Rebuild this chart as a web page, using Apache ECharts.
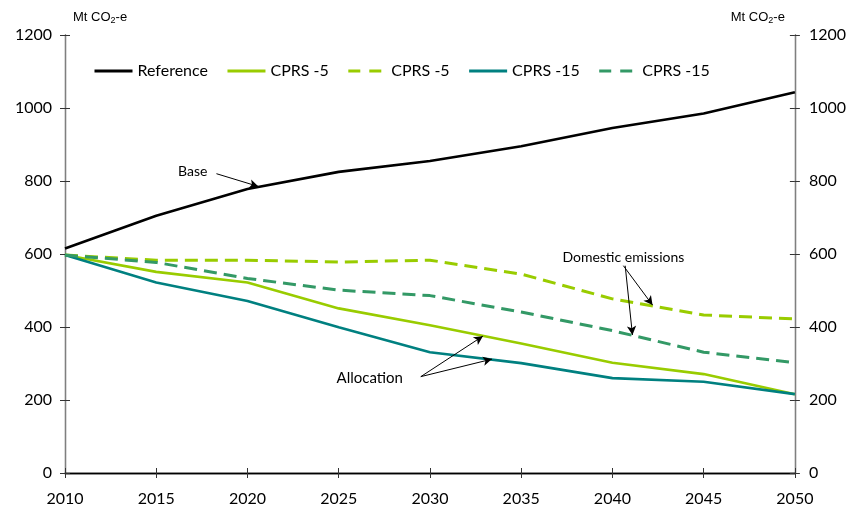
<!DOCTYPE html>
<html>
<head>
<meta charset="utf-8">
<script src="https://cdn.jsdelivr.net/npm/echarts@6/dist/echarts.min.js"></script>
<style>
html,body{margin:0;padding:0;background:#fff;}
#chart{width:849px;height:513px;}
</style>
</head>
<body>
<div id="chart"></div>
<script>
const years = [2010, 2015, 2020, 2025, 2030, 2035, 2040, 2045, 2050];
const reference = [615, 705, 778, 825, 855, 895, 945, 985, 1043];
const cprs5Alloc = [597, 551, 522, 451, 405, 355, 302, 271, 216];
const cprs5Dom = [597, 583, 583, 578, 583, 545, 477, 433, 422];
const cprs15Alloc = [597, 522, 471, 399, 331, 301, 260, 250, 216];
const cprs15Dom = [597, 577, 533, 501, 486, 441, 390, 331, 302];
const yTicks = [0, 200, 400, 600, 800, 1000, 1200];
const legendNames = ['Reference', 'CPRS -5', 'CPRS -5 ', 'CPRS -15', 'CPRS -15 '];

// annotation anchors in data space [year, value]
const baseText = [2017.0, 826];
const baseArrow = [[2018.3, 820], [2020.6, 785]];
const domText = [2040.6, 590];
const domArrows = [[[2040.6, 568], [2042.2, 460]], [[2040.7, 568], [2041.1, 378]]];
const allocText = [2026.7, 261];
const allocArrows = [[[2029.5, 264], [2032.9, 375]], [[2029.5, 264], [2033.4, 312]]];

const FONT = 'Lato, "Open Sans", sans-serif';
const pairs = arr => years.map((y, i) => [y, arr[i]]);

const colors = {ref: '#000000', c5: '#99cc00', c15: '#008080', c15d: '#339966'};
const DASH = [13, 7];

const chart = echarts.init(document.getElementById('chart'), null, {renderer: 'canvas'});

const nameRich = {
  base: {fontFamily: '"Liberation Sans", Arial', fontSize: 13, color: '#000'},
  sub: {fontFamily: '"Liberation Sans", Arial', fontSize: 9, color: '#000', verticalAlign: 'bottom', padding: [7, 0, 0, 0]}
};

function yAx(pos, main) {
  return {
    type: 'value', position: pos, min: 0, max: 1200, interval: 200,
    name: main ? '{base|Mt CO}{sub|2}{base|-e}' : '',
    nameLocation: 'end', nameGap: 10,
    nameTextStyle: {rich: nameRich, align: pos === 'left' ? 'left' : 'right', padding: pos === 'left' ? [0, 0, 0, 8] : [0, 10, 0, 0]},
    axisLine: {show: true, lineStyle: {color: '#7f7f7f', width: 1.3}},
    axisTick: {show: true, inside: !main, length: 5, lineStyle: {color: '#333', width: 1}},
    axisLabel: {show: main, fontFamily: FONT, fontSize: 16, color: '#000', margin: pos === 'left' ? 13 : 14, formatter: v => String(v)},
    splitLine: {show: false}
  };
}
function xAx(main) {
  return {
    type: 'value', position: 'bottom', min: 2010, max: 2050, interval: 5,
    axisLine: {show: true, onZero: false, lineStyle: {color: '#000', width: 1.3}},
    axisTick: {show: true, inside: !main, length: 5, lineStyle: {color: '#333', width: 1}},
    axisLabel: {show: main, fontFamily: FONT, fontSize: 16, color: '#000', margin: 18, formatter: v => String(v)},
    splitLine: {show: false}
  };
}

const arrowLine = (a, b) => [{coord: a}, {coord: b}];
const textPoint = (c, txt, size) => ({
  coord: c, symbol: 'rect', symbolSize: 1, itemStyle: {color: 'rgba(0,0,0,0)'},
  label: {show: true, position: 'inside', formatter: txt, color: '#000', fontFamily: FONT, fontSize: size}
});

const annotationMarkLine = {
  silent: true, symbol: ['none', 'arrow'], symbolSize: [7, 9],
  lineStyle: {color: '#000', width: 1, type: 'solid'},
  label: {show: false},
  emphasis: {disabled: true},
  data: [arrowLine(baseArrow[0], baseArrow[1])]
    .concat(domArrows.map(a => arrowLine(a[0], a[1])))
    .concat(allocArrows.map(a => arrowLine(a[0], a[1])))
};

const annotationMarkPoint = {
  silent: true,
  data: [textPoint(baseText, 'Base', 14), textPoint(domText, 'Domestic emissions', 14), textPoint(allocText, 'Allocation', 15)]
};

function lineSeries(name, data, color, dashed, extra) {
  return Object.assign({
    name: name, type: 'line', data: pairs(data), xAxisIndex: 0, yAxisIndex: 0,
    showSymbol: false, symbol: 'none', smooth: false, animation: false,
    lineStyle: {color: color, width: dashed ? 3 : 2.6, type: dashed ? DASH : 'solid'},
    itemStyle: {color: color},
    z: 3
  }, extra || {});
}

const legendStyles = [
  {color: colors.ref, dashed: false},
  {color: colors.c5, dashed: false},
  {color: colors.c5, dashed: true},
  {color: colors.c15, dashed: false},
  {color: colors.c15d, dashed: true}
];

const option = {
  animation: false,
  backgroundColor: '#fff',
  grid: {left: 65, right: 54, top: 35, bottom: 40, containLabel: false},
  legend: {
    show: true,
    data: legendNames.map((n, i) => ({
      name: n,
      itemStyle: {opacity: 0},
      lineStyle: {color: legendStyles[i].color, width: 3, type: legendStyles[i].dashed ? [12, 9] : 'solid'}
    })),
    left: 88, top: 58, itemWidth: 38, itemHeight: 12, itemGap: 18,
    textStyle: {fontFamily: FONT, fontSize: 16, color: '#000'},
    formatter: n => n.trim()
  },
  xAxis: [xAx(true), xAx(false)],
  yAxis: [yAx('left', true), yAx('right', true), yAx('left', false), yAx('right', false)],
  series: [
    lineSeries('Reference', reference, colors.ref, false, {markLine: annotationMarkLine, markPoint: annotationMarkPoint}),
    lineSeries('CPRS -5', cprs5Alloc, colors.c5, false),
    lineSeries('CPRS -5 ', cprs5Dom, colors.c5, true),
    lineSeries('CPRS -15', cprs15Alloc, colors.c15, false),
    lineSeries('CPRS -15 ', cprs15Dom, colors.c15d, true)
  ]
};
chart.setOption(option);
</script>
</body>
</html>
